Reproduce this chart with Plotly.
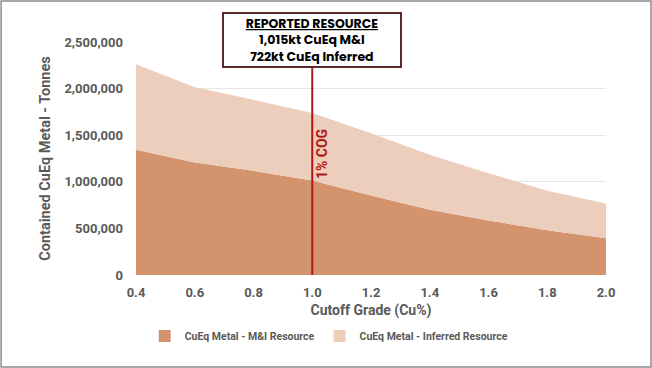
import plotly.graph_objects as go

cutoff = [0.4, 0.6, 0.8, 1.0, 1.2, 1.4, 1.6, 1.8, 2.0]
mi_resource = [1343000, 1207000, 1118000, 1015000, 854000, 700000, 586000, 479000, 393000]
inferred_resource = [917000, 807000, 762000, 722000, 666000, 590000, 507000, 425000, 375000]
y_ticks = [0, 500000, 1000000, 1500000, 2000000, 2500000]
x_ticks = [0.4, 0.6, 0.8, 1.0, 1.2, 1.4, 1.6, 1.8, 2.0]
cog = 1.0

mi_color = "#D3936D"
inf_color = "#EDCDBC"
red = "#B01818"
gray = "#595959"

fig = go.Figure()
fig.add_trace(go.Scatter(x=cutoff, y=mi_resource, stackgroup="one", mode="none",
                         fillcolor=mi_color, name="CuEq Metal - M&I Resource", showlegend=False))
fig.add_trace(go.Scatter(x=cutoff, y=inferred_resource, stackgroup="one", mode="none",
                         fillcolor=inf_color, name="CuEq Metal - Inferred Resource", showlegend=False))
# legend swatches
fig.add_trace(go.Scatter(x=[None], y=[None], mode="markers", name="CuEq Metal - M&I Resource",
                         marker=dict(symbol="square", size=8, color=mi_color)))
fig.add_trace(go.Scatter(x=[None], y=[None], mode="markers", name="CuEq Metal - Inferred Resource",
                         marker=dict(symbol="square", size=8, color=inf_color)))

fig.update_layout(
    width=652, height=368,
    margin=dict(l=136, r=46, t=42, b=93),
    paper_bgcolor="white", plot_bgcolor="white",
    font=dict(family="Roboto, Arial", color=gray),
    showlegend=True,
    legend=dict(orientation="h", x=0.41, xanchor="center", y=-0.262, yanchor="middle",
                font=dict(size=10.5, color=gray, weight="bold"), traceorder="normal",
                itemsizing="constant", itemwidth=30),
    xaxis=dict(range=[0.4, 2.0], tickvals=x_ticks, ticktext=[f"{v:.1f}" for v in x_ticks],
               showgrid=False, zeroline=False, showline=False, ticks="",
               ticklabelstandoff=8,
               tickfont=dict(size=13, color=gray, family="Roboto", weight="bold"),
               title=dict(text="Cutoff Grade (Cu%)", font=dict(size=14, color=gray, weight="bold"), standoff=6)),
    yaxis=dict(range=[0, 2500000], tickvals=y_ticks,
               ticktext=[f"{v:,}" for v in y_ticks],
               showgrid=True, gridcolor="#E6E6E6", gridwidth=1, zeroline=False, showline=False,
               ticklabelstandoff=12,
               tickfont=dict(size=13, color=gray, family="Roboto", weight="bold"), ticks="",
               title=dict(text="Contained CuEq Metal - Tonnes", font=dict(size=14.5, color=gray, weight="bold"), standoff=10)),
)

# COG vertical line
fig.add_shape(type="line", xref="x", yref="paper", x0=cog, x1=cog, y0=0, y1=0.888,
              line=dict(color=red, width=2))
fig.add_annotation(x=cog, xref="x", y=0.52, yref="paper", text="<b>1% COG</b>",
                   textangle=-90, showarrow=False, xshift=10,
                   font=dict(size=14, color=red, family="Roboto"))

# Reported resource box
fig.add_annotation(x=cog, xref="x", y=0.888, yref="paper", yanchor="bottom",
                   text="<b><u>REPORTED RESOURCE</u></b><br><b>1,015kt CuEq M&I</b><br><b>722kt CuEq Inferred</b>",
                   showarrow=False, align="center", bgcolor="white",
                   bordercolor="#5A2A2A", borderwidth=2, borderpad=1, width=174,
                   font=dict(size=12.5, color="black", family="Poppins, Open Sans"))

# outer frame
fig.add_shape(type="rect", xref="paper", yref="paper",
              x0=-0.287, x1=1.0957, y0=-0.395, y1=1.176,
              line=dict(color="#8C8C8C", width=1.5))

fig.write_html("out.html", post_script="document.body.style.margin='0';",
               config={"displayModeBar": False})
